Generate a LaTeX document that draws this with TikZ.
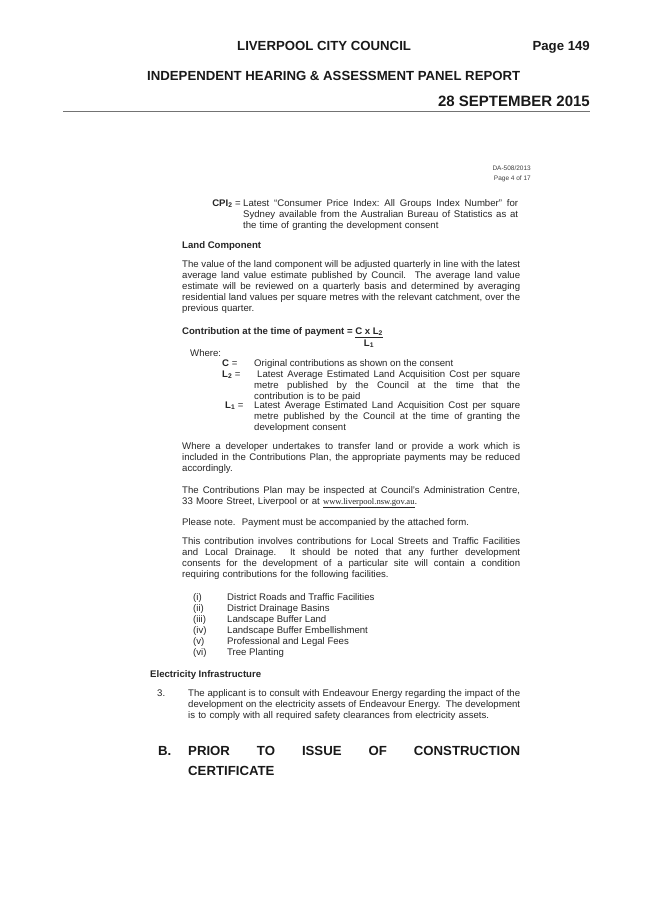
\documentclass[tikz,border=0pt]{standalone}
\usepackage{fontspec}
\setmainfont{Liberation Sans}
\newfontfamily\urlfont{Liberation Serif}
\usepackage{tikz}
\usetikzlibrary{positioning}

% one justified line of a paragraph
\newcommand{\jl}[2][338pt]{\leavevmode\hbox to #1{\spaceskip=0.28em plus 0.8em minus 0.12em\xspaceskip=\spaceskip #2}}

\begin{document}
\begin{tikzpicture}[x=1pt, y=-1pt, node distance=2pt and 4pt]

	% Styles
	\tikzset{
		head/.style={
			inner sep=0pt, anchor=base west, text=black!90,
			font=\fontsize{13.2}{15}\selectfont\bfseries
		},
		refno/.style={
			inner sep=0pt, anchor=base east, text=black!75,
			font=\fontsize{6.5}{7}\selectfont
		},
		body/.style={
			inner sep=0pt, anchor=base west, text=black!85,
			font=\fontsize{9.6}{11}\selectfont
		},
		bodybold/.style={body, font=\fontsize{9.6}{11}\selectfont\bfseries},
		para/.style={body, text width=338pt, align=left},
		sectionhead/.style={
			inner sep=0pt, anchor=base west, text=black!90,
			font=\fontsize{13.2}{20}\selectfont\bfseries
		},
		rule/.style={draw=black!55, line width=0.7pt, dash pattern=on 0.5pt off 0.5pt}
	}

	\useasboundingbox[fill=white] (0,0) rectangle (653,923);

	% Header
	\node (council) [head] at (237,51) {LIVERPOOL CITY COUNCIL};
	\node (pagenum) [head, anchor=base east] at (590,51) {Page 149};
	\node (panel) [head] at (147,81) {INDEPENDENT HEARING \& ASSESSMENT PANEL REPORT};
	\node (date) [head, anchor=base east, font=\fontsize{15}{17}\selectfont\bfseries] at (590,107) {28 SEPTEMBER 2015};
	\coordinate (ruleL) at (63,111);
	\coordinate (ruleR) at (590,111);
	\draw[rule] (ruleL) -- (ruleR);

	% Reference number
	\node (dano) [refno] at (531,170) {DA-508/2013};
	\node (dapage) [refno] at (531,180) {Page 4 of 17};

	% CPI
	\node (cpilabel) [body, anchor=base east] at (241,206) {\textbf{CPI\textsubscript{2}} =};
	\node (cpi) [para, text width=275pt] at (243,206) {\jl[275pt]{Latest ``Consumer Price Index: All Groups Index Number'' for}\\ \jl[275pt]{Sydney available from the Australian Bureau of Statistics as at}\\ the time of granting the development consent};

	% Land Component
	\node (landhead) [bodybold] at (182,248) {Land Component};
	\node (landtext) [para] at (182,267) {\jl{The value of the land component will be adjusted quarterly in line with the latest}\\ \jl{average land value estimate published by Council.~ The average land value}\\ \jl{estimate will be reviewed on a quarterly basis and determined by averaging}\\ \jl{residential land values per square metres with the relevant catchment, over the}\\ previous quarter.};

	% Formula
	\node (formula) [bodybold] at (182,334) {Contribution at the time of payment = \underline{C x L\textsubscript{2}}};
	\node (formuladen) [bodybold, anchor=base] at (369,346) {L\textsubscript{1}};
	\node (where) [body] at (190,356) {Where:};
	\node (clabel) [body] at (222,366) {\textbf{C} =};
	\node (ctext) [body] at (254,366) {Original contributions as shown on the consent};
	\node (ltwolabel) [body] at (222,377) {\textbf{L\textsubscript{2}} =};
	\node (ltwotext) [para, text width=266pt] at (254,377) {\jl[266pt]{\hspace*{3pt}Latest Average Estimated Land Acquisition Cost per square}\\ \jl[266pt]{metre published by the Council at the time that the}\\ contribution is to be paid};
	\node (lonelabel) [body] at (225,408) {\textbf{L\textsubscript{1}} =};
	\node (lonetext) [para, text width=266pt] at (254,408) {\jl[266pt]{Latest Average Estimated Land Acquisition Cost per square}\\ \jl[266pt]{metre published by the Council at the time of granting the}\\ development consent};

	% Further notes
	\node (worktext) [para] at (182,449) {\jl{Where a developer undertakes to transfer land or provide a work which is}\\ \jl{included in the Contributions Plan, the appropriate payments may be reduced}\\ accordingly.};
	\node (plantext) [para] at (182,493) {\jl{The Contributions Plan may be inspected at Council's Administration Centre,}\\ 33 Moore Street, Liverpool or at {\urlfont\fontsize{8.6}{11}\selectfont\underline{www.liverpool.nsw.gov.au}}.};
	\node (notetext) [body] at (182,525) {Please note.~ Payment must be accompanied by the attached form.};
	\node (facilitytext) [para] at (182,544) {\jl{This contribution involves contributions for Local Streets and Traffic Facilities}\\ \jl{and Local Drainage.~ It should be noted that any further development}\\ \jl{consents for the development of a particular site will contain a condition}\\ requiring contributions for the following facilities.};

	% Facilities list
	\node (itemone) [body] at (193,600) {(i)};
	\node (itemtwo) [body] at (193,611) {(ii)};
	\node (itemthree) [body] at (193,622) {(iii)};
	\node (itemfour) [body] at (193,633) {(iv)};
	\node (itemfive) [body] at (193,644) {(v)};
	\node (itemsix) [body] at (193,655) {(vi)};
	\node (roads) [body] at (227,600) {District Roads and Traffic Facilities};
	\node (drainage) [body] at (227,611) {District Drainage Basins};
	\node (bufferland) [body] at (227,622) {Landscape Buffer Land};
	\node (buffertrees) [body] at (227,633) {Landscape Buffer Embellishment};
	\node (fees) [body] at (227,644) {Professional and Legal Fees};
	\node (trees) [body] at (227,655) {Tree Planting};

	% Electricity
	\node (elechead) [bodybold] at (150,677) {Electricity Infrastructure};
	\node (elecnum) [body] at (157,696) {3.};
	\node (electext) [para, text width=332pt] at (188,696) {\jl[332pt]{The applicant is to consult with Endeavour Energy regarding the impact of the}\\ \jl[332pt]{development on the electricity assets of Endeavour Energy.~ The development}\\ is to comply with all required safety clearances from electricity assets.};

	% Section B
	\node (secletter) [sectionhead] at (158,755) {B.};
	\node (sectitle) [sectionhead, text width=332pt, align=left] at (188,755) {\jl[332pt]{PRIOR TO ISSUE OF CONSTRUCTION}\\ CERTIFICATE};

\end{tikzpicture}
\end{document}
